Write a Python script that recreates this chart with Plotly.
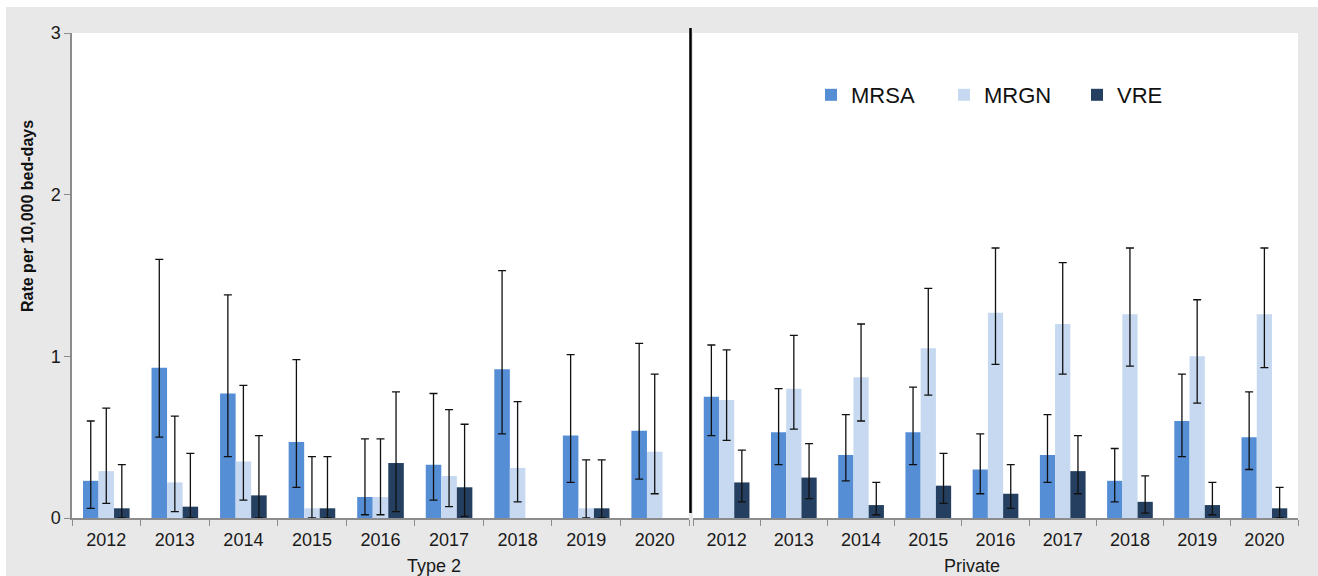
import plotly.graph_objects as go

years = ["2012", "2013", "2014", "2015", "2016", "2017", "2018", "2019", "2020"]
series = ["MRSA", "MRGN", "VRE"]
colors = {"MRSA": "#558ED5", "MRGN": "#C6D9F1", "VRE": "#243F60"}

# Type 2 hospitals: rate, lower CI, upper CI
type2_mrsa = [0.23, 0.93, 0.77, 0.47, 0.13, 0.33, 0.92, 0.51, 0.54]
type2_mrsa_lo = [0.06, 0.50, 0.38, 0.19, 0.02, 0.11, 0.52, 0.22, 0.24]
type2_mrsa_hi = [0.60, 1.60, 1.38, 0.98, 0.49, 0.77, 1.53, 1.01, 1.08]

type2_mrgn = [0.29, 0.22, 0.35, 0.06, 0.13, 0.26, 0.31, 0.06, 0.41]
type2_mrgn_lo = [0.09, 0.04, 0.11, 0.00, 0.02, 0.07, 0.10, 0.00, 0.15]
type2_mrgn_hi = [0.68, 0.63, 0.82, 0.38, 0.49, 0.67, 0.72, 0.36, 0.89]

type2_vre = [0.06, 0.07, 0.14, 0.06, 0.34, 0.19, None, 0.06, None]
type2_vre_lo = [0.00, 0.00, 0.00, 0.00, 0.04, 0.01, None, 0.00, None]
type2_vre_hi = [0.33, 0.40, 0.51, 0.38, 0.78, 0.58, None, 0.36, None]

# Private hospitals: rate, lower CI, upper CI
priv_mrsa = [0.75, 0.53, 0.39, 0.53, 0.30, 0.39, 0.23, 0.60, 0.50]
priv_mrsa_lo = [0.51, 0.33, 0.23, 0.33, 0.15, 0.22, 0.10, 0.38, 0.30]
priv_mrsa_hi = [1.07, 0.80, 0.64, 0.81, 0.52, 0.64, 0.43, 0.89, 0.78]

priv_mrgn = [0.73, 0.80, 0.87, 1.05, 1.27, 1.20, 1.26, 1.00, 1.26]
priv_mrgn_lo = [0.48, 0.55, 0.60, 0.76, 0.95, 0.89, 0.94, 0.71, 0.93]
priv_mrgn_hi = [1.04, 1.13, 1.20, 1.42, 1.67, 1.58, 1.67, 1.35, 1.67]

priv_vre = [0.22, 0.25, 0.08, 0.20, 0.15, 0.29, 0.10, 0.08, 0.06]
priv_vre_lo = [0.10, 0.12, 0.02, 0.09, 0.06, 0.15, 0.03, 0.02, 0.00]
priv_vre_hi = [0.42, 0.46, 0.22, 0.40, 0.33, 0.51, 0.26, 0.22, 0.19]

groups = {
    "x": {"MRSA": (type2_mrsa, type2_mrsa_lo, type2_mrsa_hi),
          "MRGN": (type2_mrgn, type2_mrgn_lo, type2_mrgn_hi),
          "VRE": (type2_vre, type2_vre_lo, type2_vre_hi)},
    "x2": {"MRSA": (priv_mrsa, priv_mrsa_lo, priv_mrsa_hi),
           "MRGN": (priv_mrgn, priv_mrgn_lo, priv_mrgn_hi),
           "VRE": (priv_vre, priv_vre_lo, priv_vre_hi)},
}


def err_plus(v, hi):
    return [None if a is None else h - a for a, h in zip(v, hi)]


def err_minus(v, lo):
    return [None if a is None else a - l for a, l in zip(v, lo)]


fig = go.Figure()
for xa, data in groups.items():
    for name in series:
        v, lo, hi = data[name]
        fig.add_trace(go.Bar(
            x=years, y=v, name=name, xaxis=xa, yaxis="y",
            marker=dict(color=colors[name], line=dict(width=0)),
            legendgroup=name, showlegend=(xa == "x"),
            error_y=dict(type="data", symmetric=False,
                         array=err_plus(v, hi), arrayminus=err_minus(v, lo),
                         color="#111111", thickness=1.3, width=4),
        ))

W, H = 1318, 576
L, R, T, B = 72, 20, 33, 58
pw = W - L - R
ph = H - T - B


def px_x(p):
    return (p - L) / pw


def px_y(p):
    return (H - B - p) / ph


font = "Liberation Sans, Arial, sans-serif"
axis_common = dict(
    showline=True, linecolor="#8c8c8c", linewidth=1.5,
    ticks="outside", tickson="boundaries", ticklen=6, tickcolor="#8c8c8c",
    tickfont=dict(family=font, size=18, color="#1a1a1a"), ticklabelstandoff=5,
    showgrid=False, zeroline=False, fixedrange=True,
)

fig.update_layout(
    width=W, height=H,
    margin=dict(l=L, r=R, t=T, b=B),
    paper_bgcolor="#E8E8E8", plot_bgcolor="#FFFFFF",
    barmode="group", bargap=0.32, bargroupgap=0,
    xaxis=dict(domain=[0, px_x(689)], anchor="y", **axis_common),
    xaxis2=dict(domain=[px_x(693), 1], anchor="y", **axis_common),
    yaxis=dict(range=[0, 3], tickvals=[0, 1, 2, 3], ticktext=["0", "1", "2", "3"],
               showline=True, linecolor="#8c8c8c", linewidth=1.5,
               ticks="outside", ticklen=6, tickcolor="#8c8c8c",
               tickfont=dict(family=font, size=18, color="#1a1a1a"),
               showgrid=False, zeroline=False, fixedrange=True),
    legend=dict(orientation="h", x=px_x(811), y=px_y(95), xanchor="left", yanchor="middle",
                bgcolor="rgba(0,0,0,0)", font=dict(family=font, size=22, color="#111111"),
                entrywidth=88, entrywidthmode="pixels", traceorder="normal"),
    font=dict(family=font),
    showlegend=True,
)

# panel divider between Type 2 and Private
fig.add_shape(type="line", xref="paper", yref="paper",
              x0=px_x(690.5), x1=px_x(690.5), y0=px_y(513), y1=px_y(28),
              line=dict(color="#000000", width=2.5))

# white frame along the top and left edges
fig.add_shape(type="rect", xref="paper", yref="paper", layer="below",
              x0=px_x(0), x1=px_x(W), y0=px_y(7), y1=px_y(0),
              line=dict(width=0), fillcolor="#FFFFFF")
fig.add_shape(type="rect", xref="paper", yref="paper", layer="below",
              x0=px_x(0), x1=px_x(6), y0=px_y(H), y1=px_y(0),
              line=dict(width=0), fillcolor="#FFFFFF")

fig.add_annotation(text="<b>Rate per 10,000 bed-days</b>", textangle=-90,
                   xref="paper", yref="paper", x=px_x(27), y=px_y(216),
                   xanchor="center", yanchor="middle",
                   showarrow=False, font=dict(family=font, size=16, color="#111111"))
fig.add_annotation(text="Type 2", xref="paper", yref="paper",
                   x=px_x(434), y=px_y(566), xanchor="center", yanchor="middle",
                   showarrow=False, font=dict(family=font, size=18, color="#1a1a1a"))
fig.add_annotation(text="Private", xref="paper", yref="paper",
                   x=px_x(972), y=px_y(566), xanchor="center", yanchor="middle",
                   showarrow=False, font=dict(family=font, size=18, color="#1a1a1a"))

fig.write_html("out.html")
